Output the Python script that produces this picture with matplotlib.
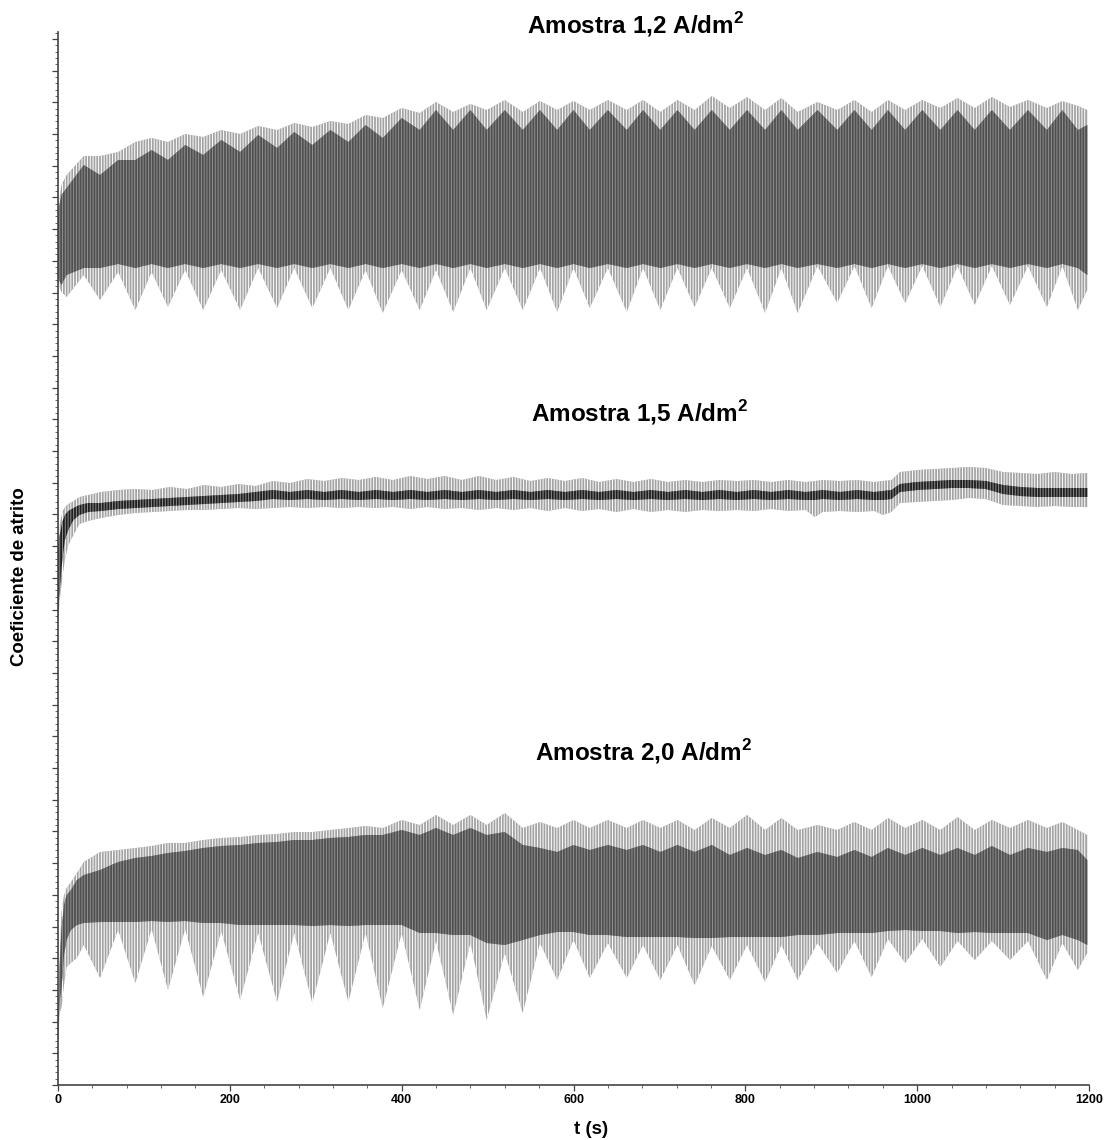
import matplotlib
matplotlib.use("Agg")
import matplotlib.pyplot as plt
from matplotlib.ticker import MultipleLocator, NullFormatter

plt.rcParams["font.family"] = ["Liberation Sans", "DejaVu Sans"]
plt.rcParams["mathtext.fontset"] = "custom"
plt.rcParams["mathtext.rm"] = "Liberation Sans"
plt.rcParams["mathtext.bf"] = "Liberation Sans:bold"
plt.rcParams["hatch.linewidth"] = 0.7

# ---- data: envelopes of the friction traces (arbitrary y units)
# Amostra 1,2 A/dm2
t_12 = [0, 4, 10, 30, 49, 70, 90, 109, 128, 148, 169, 190, 212, 233, 255, 275, 296, 317,
        338, 358, 378, 400, 421, 440, 460, 480, 499, 520, 541, 561, 581, 600, 619, 640,
        662, 681, 701, 721, 741, 761, 782, 802, 823, 842, 861, 884, 907, 927, 947, 966,
        986, 1006, 1027, 1047, 1067, 1087, 1108, 1129, 1151, 1169, 1187, 1198]
hi_12 = [87.8, 90.0, 91.0, 92.9, 92.9, 93.3, 94.3, 94.7, 94.3, 95.1, 94.8, 95.5, 95.1, 95.9,
         95.5, 96.2, 95.8, 96.4, 96.1, 97.0, 96.7, 97.7, 97.2, 98.3, 97.3, 98.1, 97.5, 98.5,
         97.3, 98.4, 97.5, 98.4, 97.5, 98.5, 97.5, 98.5, 97.3, 98.5, 97.5, 98.9, 97.7, 98.8,
         97.5, 98.7, 97.3, 98.3, 97.5, 98.5, 97.3, 98.5, 97.5, 98.5, 97.7, 98.7, 97.7, 98.8,
         97.8, 98.5, 97.7, 98.4, 97.9, 97.5]
lo_12 = [80.2, 79.3, 78.8, 81.0, 78.5, 81.3, 77.5, 81.3, 77.8, 81.5, 77.5, 81.5, 77.5, 81.7,
         77.7, 81.7, 77.7, 81.7, 77.5, 81.5, 77.2, 81.5, 77.5, 81.5, 77.3, 81.7, 77.5, 81.7,
         77.5, 81.7, 77.3, 81.7, 77.7, 81.7, 77.3, 81.7, 77.5, 81.7, 77.8, 81.7, 77.7, 81.7,
         77.2, 81.7, 77.2, 81.9, 78.2, 81.9, 77.7, 81.9, 78.2, 81.9, 77.8, 81.9, 78.0, 81.9,
         78.0, 81.9, 77.8, 81.9, 77.5, 79.5]
core_hi_12 = [87.3, 89.0, 89.7, 92.0, 91.0, 92.5, 92.5, 93.5, 92.5, 94.0, 93.0, 94.5, 93.3,
              95.0, 93.7, 95.3, 94.0, 95.5, 94.3, 96.0, 94.7, 96.7, 95.5, 97.5, 95.5, 97.5,
              95.5, 97.5, 95.5, 97.5, 95.5, 97.5, 95.5, 97.5, 95.5, 97.5, 95.5, 97.5, 95.5,
              97.5, 95.5, 97.5, 95.5, 97.5, 95.5, 97.5, 95.5, 97.5, 95.5, 97.5, 95.5, 97.5,
              95.5, 97.5, 95.5, 97.5, 95.5, 97.5, 95.5, 97.5, 95.5, 96.0]
core_lo_12 = [80.7, 80.0, 81.0, 81.7, 81.7, 82.1, 81.7, 82.1, 81.7, 82.1, 81.7, 82.1, 81.7,
              82.1, 81.7, 82.1, 81.7, 82.1, 81.7, 82.1, 81.7, 82.1, 81.7, 82.1, 81.7, 82.1,
              81.7, 82.1, 81.7, 82.1, 81.7, 82.1, 81.7, 82.1, 81.7, 82.1, 81.7, 82.1, 81.7,
              82.1, 81.7, 82.1, 81.7, 82.1, 81.7, 82.1, 81.7, 82.1, 81.7, 82.1, 81.7, 82.1,
              81.7, 82.1, 81.7, 82.1, 81.7, 82.1, 81.7, 82.1, 81.7, 81.0]

# Amostra 1,5 A/dm2
t_15 = [0, 2, 5, 8, 12, 18, 25, 35, 50, 70, 90, 110, 130, 150, 170, 190, 210, 230, 250, 270,
        290, 310, 330, 350, 370, 390, 410, 430, 450, 470, 490, 510, 530, 550, 570, 590, 610,
        630, 650, 670, 690, 710, 730, 750, 770, 790, 810, 830, 850, 870, 881, 890, 910, 930,
        950, 960, 970, 980, 1000, 1020, 1040, 1060, 1080, 1100, 1120, 1140, 1160, 1180, 1198]
hi_15 = [54.8, 56.0, 57.3, 57.8, 58.1, 58.4, 58.8, 59.0, 59.3, 59.5, 59.6, 59.5, 59.8, 59.6,
         60.0, 59.8, 60.1, 59.9, 60.4, 60.2, 60.6, 60.4, 60.7, 60.5, 60.8, 60.5, 60.9, 60.6,
         60.9, 60.5, 60.9, 60.5, 60.8, 60.4, 60.7, 60.4, 60.7, 60.3, 60.6, 60.3, 60.6, 60.3,
         60.5, 60.3, 60.5, 60.4, 60.5, 60.3, 60.5, 60.3, 60.4, 60.5, 60.4, 60.5, 60.3, 60.4,
         60.5, 61.3, 61.5, 61.6, 61.7, 61.8, 61.7, 61.3, 61.2, 61.1, 61.3, 61.1, 61.2]
lo_15 = [46.2, 48.5, 50.7, 52.5, 54.0, 55.0, 56.1, 56.4, 56.7, 57.0, 57.2, 57.3, 57.4, 57.5,
         57.5, 57.6, 57.7, 57.6, 57.7, 57.8, 57.7, 57.8, 57.7, 57.8, 57.7, 57.8, 57.6, 57.8,
         57.6, 57.7, 57.5, 57.7, 57.5, 57.7, 57.4, 57.7, 57.4, 57.6, 57.3, 57.6, 57.3, 57.5,
         57.3, 57.5, 57.4, 57.5, 57.4, 57.6, 57.4, 57.5, 56.8, 57.3, 57.4, 57.3, 57.4, 57.0,
         57.3, 58.2, 58.3, 58.4, 58.5, 58.7, 58.6, 58.0, 57.9, 57.8, 57.9, 57.8, 57.8]
core_hi_15 = [53.8, 55.0, 56.3, 57.0, 57.4, 57.7, 58.0, 58.2, 58.2, 58.4, 58.5, 58.6, 58.7,
              58.8, 58.9, 59.0, 59.1, 59.3, 59.5, 59.3, 59.5, 59.3, 59.5, 59.3, 59.5, 59.3,
              59.5, 59.3, 59.5, 59.3, 59.5, 59.3, 59.5, 59.3, 59.5, 59.3, 59.5, 59.3, 59.5,
              59.3, 59.5, 59.3, 59.5, 59.3, 59.5, 59.3, 59.5, 59.3, 59.5, 59.3, 59.4, 59.5,
              59.3, 59.5, 59.3, 59.4, 59.5, 60.1, 60.3, 60.4, 60.5, 60.5, 60.4, 60.0, 59.8,
              59.7, 59.7, 59.7, 59.7]
core_lo_15 = [47.0, 49.5, 52.5, 54.5, 55.5, 56.5, 57.0, 57.3, 57.4, 57.6, 57.7, 57.8, 57.9,
              58.0, 58.1, 58.2, 58.3, 58.4, 58.6, 58.5, 58.6, 58.5, 58.6, 58.5, 58.6, 58.5,
              58.6, 58.5, 58.6, 58.5, 58.6, 58.5, 58.6, 58.5, 58.6, 58.5, 58.6, 58.5, 58.6,
              58.5, 58.6, 58.5, 58.6, 58.5, 58.6, 58.5, 58.6, 58.5, 58.6, 58.5, 58.5, 58.6,
              58.5, 58.6, 58.5, 58.5, 58.6, 59.3, 59.5, 59.6, 59.7, 59.7, 59.6, 59.1, 58.9,
              58.8, 58.8, 58.8, 58.8]

# Amostra 2,0 A/dm2
t_20 = [0, 2, 4, 7, 10, 15, 22, 30, 49, 70, 90, 109, 128, 148, 169, 190, 212, 233, 255, 275,
        296, 317, 338, 358, 378, 400, 421, 440, 460, 480, 499, 520, 541, 561, 581, 600, 619,
        640, 662, 681, 701, 721, 741, 761, 782, 802, 823, 842, 861, 884, 907, 927, 947, 966,
        986, 1006, 1027, 1047, 1067, 1087, 1108, 1129, 1151, 1169, 1187, 1198]
hi_20 = [7.2, 12.8, 17.3, 19.0, 19.7, 20.3, 21.2, 22.3, 23.3, 23.5, 23.7, 23.9, 24.2, 24.2,
         24.5, 24.7, 24.8, 25.0, 25.1, 25.3, 25.3, 25.5, 25.7, 25.9, 25.7, 26.5, 26.0, 27.0,
         26.0, 27.0, 26.0, 27.2, 25.7, 26.3, 25.7, 26.5, 25.7, 26.5, 25.7, 26.5, 25.7, 26.5,
         25.5, 26.7, 25.7, 27.0, 25.5, 26.7, 25.5, 26.0, 25.5, 26.3, 25.5, 26.7, 25.7, 26.5,
         25.5, 26.8, 25.5, 26.5, 25.7, 26.5, 25.7, 26.3, 25.5, 25.0]
lo_20 = [4.3, 7.2, 7.7, 10.0, 11.8, 12.2, 12.7, 14.0, 10.7, 15.5, 10.2, 15.6, 9.5, 15.6, 8.8,
         15.4, 8.5, 15.2, 8.3, 15.2, 8.2, 15.2, 8.3, 15.2, 7.7, 15.2, 7.5, 14.4, 7.0, 14.2,
         6.5, 13.2, 7.2, 14.2, 10.5, 14.5, 10.7, 14.2, 10.7, 14.0, 10.5, 14.0, 10.0, 13.9,
         10.5, 14.0, 10.3, 14.0, 10.5, 14.2, 11.2, 14.4, 10.8, 14.6, 12.2, 14.6, 11.8, 14.4,
         12.5, 14.4, 12.5, 14.4, 10.5, 14.2, 11.5, 13.2]
core_hi_20 = [7.0, 12.0, 15.5, 18.0, 19.0, 19.5, 20.5, 21.0, 21.5, 22.3, 22.7, 22.9, 23.2,
              23.4, 23.7, 23.9, 24.0, 24.2, 24.3, 24.5, 24.5, 24.7, 24.8, 25.0, 25.0, 25.5,
              25.0, 25.7, 25.0, 25.7, 25.0, 25.3, 24.0, 23.7, 23.3, 24.0, 23.5, 24.0, 23.5,
              24.0, 23.3, 24.0, 23.3, 24.0, 23.0, 23.7, 23.0, 23.5, 22.7, 23.3, 22.8, 23.5,
              22.8, 23.7, 23.0, 23.7, 23.0, 23.7, 23.0, 23.9, 23.0, 23.7, 23.3, 23.7, 23.5,
              22.5]
core_lo_20 = [4.5, 8.5, 9.5, 13.0, 14.5, 15.5, 16.0, 16.2, 16.3, 16.3, 16.3, 16.4, 16.3, 16.4,
              16.2, 16.2, 16.0, 16.0, 16.0, 16.0, 15.9, 16.0, 15.9, 16.0, 16.0, 16.0, 15.2,
              15.2, 15.0, 15.0, 14.2, 14.0, 14.5, 15.0, 15.3, 15.3, 15.0, 15.0, 14.8, 14.8,
              14.8, 14.8, 14.7, 14.7, 14.8, 14.8, 14.8, 14.8, 15.0, 15.0, 15.2, 15.2, 15.2,
              15.4, 15.5, 15.4, 15.4, 15.2, 15.3, 15.2, 15.2, 15.2, 14.5, 15.0, 14.5, 14.0]

titles = ["Amostra 1,2 A/dm$^{\\mathbf{2}}$", "Amostra 1,5 A/dm$^{\\mathbf{2}}$",
          "Amostra 2,0 A/dm$^{\\mathbf{2}}$"]
title_pos = [(636, 25), (640, 413), (644, 752)]   # pixel centres of the panel captions

samples = [
    (t_12, hi_12, lo_12, core_hi_12, core_lo_12, "#4f4f4f"),
    (t_15, hi_15, lo_15, core_hi_15, core_lo_15, "#1e1e1e"),
    (t_20, hi_20, lo_20, core_hi_20, core_lo_20, "#4f4f4f"),
]

W, H = 1109, 1140
fig = plt.figure(figsize=(W / 100, H / 100), dpi=100)
ax = fig.add_axes([58 / W, 1 - 1085 / H, (1089 - 58) / W, (1085 - 32) / H])

for t, hi, lo, chi, clo, core_col in samples:
    # outer envelope: sparse light strokes
    ax.fill_between(t, lo, hi, facecolor="#a3a3a3", edgecolor="white",
                    hatch="||||||", linewidth=0)
    # dense core of the oscillation
    ax.fill_between(t, clo, chi, facecolor=core_col, edgecolor="#8f8f8f",
                    hatch="||||||", linewidth=0)

ax.set_xlim(0, 1200)
ax.set_ylim(0, 105.3)
ax.xaxis.set_major_locator(MultipleLocator(200))
ax.xaxis.set_minor_locator(MultipleLocator(40))
ax.yaxis.set_major_locator(MultipleLocator(3.17))
ax.yaxis.set_minor_locator(MultipleLocator(0.634))
ax.yaxis.set_major_formatter(NullFormatter())

for side in ("top", "right"):
    ax.spines[side].set_visible(False)
for side in ("left", "bottom"):
    ax.spines[side].set_color("#444444")
    ax.spines[side].set_linewidth(1.2)

ax.tick_params(which="major", direction="out", length=4.5, width=0.9, color="#444444")
ax.tick_params(which="minor", direction="out", length=2.2, width=0.7, color="#666666")
ax.tick_params(axis="x", labelsize=9, pad=2)
for lab in ax.get_xticklabels():
    lab.set_fontweight("bold")

for title, (xp, yp) in zip(titles, title_pos):
    fig.text(xp / W, 1 - yp / H, title, ha="center", va="center",
             fontsize=17.5, fontweight="bold")

fig.text(20 / W, 1 - 577 / H, "Coeficiente de atrito", rotation=90,
         ha="center", va="center", fontsize=13.4, fontweight="bold")
fig.text(591 / W, 1 - 1130 / H, "t (s)", ha="center", va="center",
         fontsize=13.5, fontweight="bold")

fig.savefig("out.png", dpi=100)
